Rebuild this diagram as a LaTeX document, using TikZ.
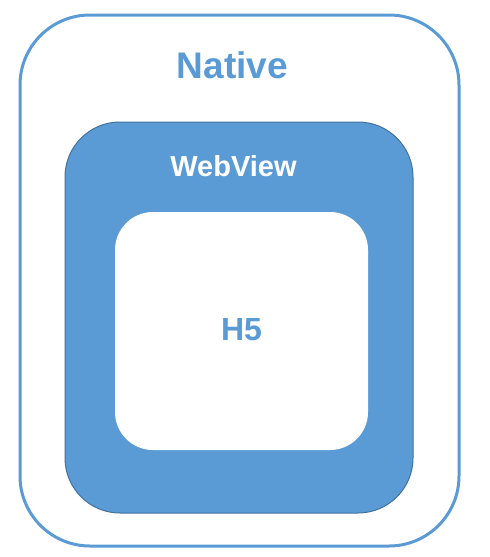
\documentclass[tikz,border=0pt]{standalone}
\usepackage{fontspec}
\setmainfont{Liberation Sans}
\usetikzlibrary{positioning}
\definecolor{officeblue}{HTML}{5B9BD5}
\definecolor{darkblue}{HTML}{41719C}

\begin{document}
\begin{tikzpicture}[x=1pt, y=-1pt,
    box/.style={rectangle, inner sep=0pt, outer sep=0pt},
    label/.style={font=\bfseries, inner sep=0pt}]
    \useasboundingbox (0,0) rectangle (490,557);

    % Layers
    \node (native) [box, draw=officeblue, line width=3pt, rounded corners=70pt,
        minimum width=439pt, minimum height=531pt] at (239.5,280.5) {};
    \node (webview) [box, fill=officeblue, draw=darkblue, line width=1pt, rounded corners=55pt,
        minimum width=348pt, minimum height=391pt] at (239,317.5) {};
    \node (h5) [box, fill=white, rounded corners=38pt,
        minimum width=253pt, minimum height=238pt] at (241.5,331) {};

    % Labels
    \node (nativetext) [label, text=officeblue, font=\bfseries\fontsize{37}{42}\selectfont] at (232.5,65) {Native};
    \node (webviewtext) [label, text=white, font=\bfseries\fontsize{29}{34}\selectfont] at (233.5,166) {WebView};
    \node (h5text) [label, text=officeblue, font=\bfseries\fontsize{32}{37}\selectfont] at (241.5,330) {H5};
\end{tikzpicture}
\end{document}
